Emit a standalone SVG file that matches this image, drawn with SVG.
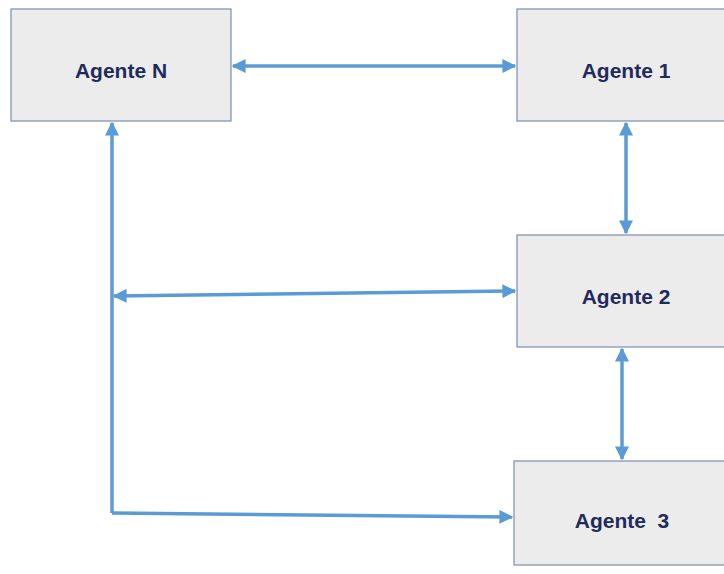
<svg xmlns="http://www.w3.org/2000/svg" width="724" height="574" viewBox="0 0 724 574">
<style>
.box{fill:#ececec;stroke:#7a8fb0;stroke-width:1.2}
.lbl{font-family:"Liberation Sans",Arial,sans-serif;font-weight:bold;font-size:21px;fill:#1f2b5c;text-anchor:middle}
.con{fill:none;stroke:#5b9bd5;stroke-width:3.5}
</style>
<defs>
<marker id="ah" viewBox="0 0 10 10" refX="9" refY="5" markerWidth="4" markerHeight="4" orient="auto-start-reverse" markerUnits="strokeWidth">
<path d="M0,0 L10,5 L0,10 z" fill="#5b9bd5"/>
</marker>
</defs>
<rect width="724" height="574" fill="#ffffff"/>
<g id="agenteN"><rect class="box" x="11" y="9" width="220" height="112"/><text class="lbl" x="121" y="78">Agente N</text></g>
<g id="agente1"><rect class="box" x="517" y="9" width="215" height="112"/><text class="lbl" x="626" y="78">Agente 1</text></g>
<g id="agente2"><rect class="box" x="517" y="235" width="215" height="112"/><text class="lbl" x="626" y="304">Agente 2</text></g>
<g id="agente3"><rect class="box" x="514" y="461" width="218" height="104"/><text class="lbl" x="622" y="528" xml:space="preserve">Agente  3</text></g>
<g id="connectors">
<line class="con" x1="233" y1="66" x2="515" y2="66" marker-start="url(#ah)" marker-end="url(#ah)"/>
<line class="con" x1="626" y1="123" x2="626" y2="233" marker-start="url(#ah)" marker-end="url(#ah)"/>
<line class="con" x1="622" y1="349" x2="622" y2="459" marker-start="url(#ah)" marker-end="url(#ah)"/>
<polyline class="con" points="112,513 112,123" marker-end="url(#ah)"/>
<line class="con" x1="114" y1="296" x2="515" y2="291" marker-start="url(#ah)" marker-end="url(#ah)"/>
<line class="con" x1="112" y1="513" x2="512" y2="517" marker-end="url(#ah)"/>
</g>
</svg>
